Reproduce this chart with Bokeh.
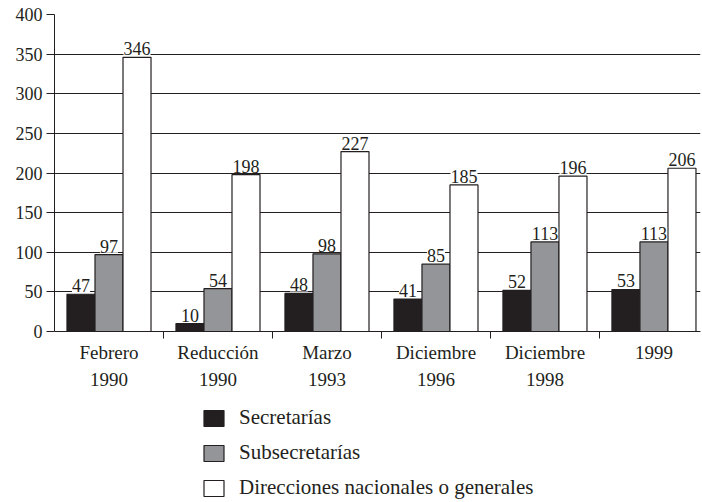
import numpy as np
from bokeh.plotting import figure
from bokeh.models import Range1d, FixedTicker, ColumnDataSource, LabelSet, Legend, LegendItem
from bokeh.embed import file_html
from bokeh.resources import INLINE

categories = ["Febrero\n1990", "Reducción\n1990", "Marzo\n1993", "Diciembre\n1996", "Diciembre\n1998", "1999"]
secretarias = [47, 10, 48, 41, 52, 53]
subsecretarias = [97, 54, 98, 85, 113, 113]
direcciones = [346, 198, 227, 185, 196, 206]
series_names = ["Secretarías", "Subsecretarías", "Direcciones nacionales o generales"]
y_ticks = [0, 50, 100, 150, 200, 250, 300, 350, 400]

FONT = "Liberation Serif"
INK = "#231f20"
fills = [INK, "#939598", "#ffffff"]

centers = np.arange(len(categories)) + 0.5
bar_w = 0.257
offsets = [-bar_w, 0.0, bar_w]

# frame spans 14..502 px; value 0 sits at 331 px, 400 at 14 px
px_per_unit = (331 - 14) / 400.0
y_start = -(502 - 331) / px_per_unit

p = figure(width=702, height=502, x_range=Range1d(0, 5.927), y_range=Range1d(y_start, 400),
           output_backend="svg", toolbar_location=None,
           min_border_left=54, min_border_right=2, min_border_top=14, min_border_bottom=0)
p.outline_line_color = None
p.background_fill_color = "white"

renderers = []
for vals, off, col in zip([secretarias, subsecretarias, direcciones], offsets, fills):
    src = ColumnDataSource(dict(x=centers + off, top=vals, label=[str(v) for v in vals]))
    r = p.vbar(x="x", top="top", bottom=0, width=bar_w, source=src,
               fill_color=col, line_color=INK, line_width=1.2)
    renderers.append(r)
    lab = LabelSet(x="x", y="top", text="label", source=src, y_offset=2,
                   text_align="center", text_baseline="bottom",
                   text_font=FONT, text_font_size="18px", text_color=INK,
                   background_fill_color="white")
    p.add_layout(lab)

p.xgrid.visible = False
p.ygrid.ticker = FixedTicker(ticks=y_ticks)
p.ygrid.grid_line_color = INK
p.ygrid.grid_line_width = 1

ya = p.yaxis[0]
ya.ticker = FixedTicker(ticks=y_ticks)
ya.bounds = (0, 400)
ya.major_tick_out = 8
ya.major_tick_in = 0
ya.minor_tick_line_color = None
ya.axis_line_color = INK
ya.major_tick_line_color = INK
ya.major_label_text_font = FONT
ya.major_label_text_font_size = "18px"
ya.major_label_text_color = INK
ya.major_label_standoff = 4

xa = p.xaxis[0]
xa.fixed_location = 0
xa.ticker = FixedTicker(ticks=list(centers), minor_ticks=[1, 2, 3, 4, 5])
xa.major_tick_line_color = None
xa.major_tick_out = 0
xa.major_tick_in = 0
xa.minor_tick_out = 7
xa.minor_tick_in = 0
xa.minor_tick_line_color = INK
xa.axis_line_color = INK
xa.major_label_overrides = {float(c): lbl for c, lbl in zip(centers, categories)}
xa.major_label_text_font = FONT
xa.major_label_text_font_size = "19px"
xa.major_label_text_color = INK
xa.major_label_text_line_height = 1.3
xa.major_label_standoff = 3

legend = Legend(items=[LegendItem(label=n, renderers=[r]) for n, r in zip(series_names, renderers)],
                location=(147, 2), orientation="vertical",
                glyph_width=25, glyph_height=20, label_text_font=FONT,
                label_text_font_size="21px", label_text_color=INK,
                spacing=10, padding=0, margin=0, label_standoff=13,
                border_line_color=None, background_fill_alpha=0)
p.add_layout(legend, "center")

open("out.html", "w").write(file_html(p, INLINE))
